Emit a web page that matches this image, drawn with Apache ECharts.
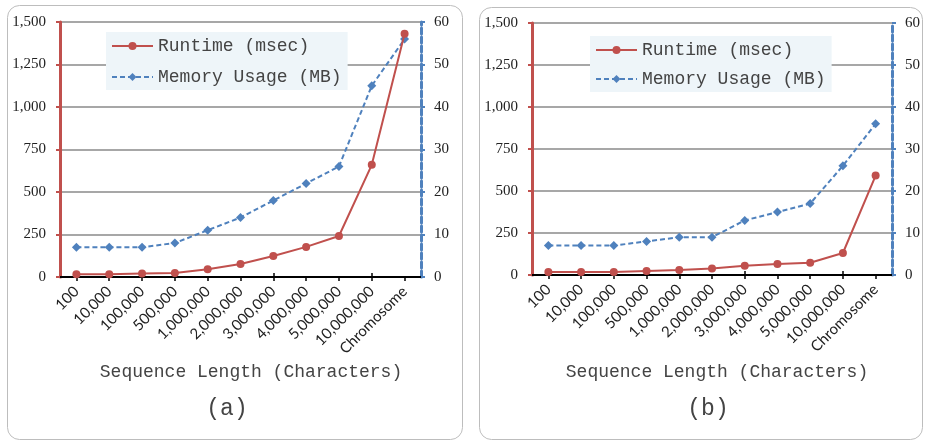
<!DOCTYPE html>
<html>
<head>
<meta charset="utf-8">
<script src="https://cdn.jsdelivr.net/npm/echarts@6/dist/echarts.min.js"></script>
<style>html,body{margin:0;padding:0;background:#fff;}#c{width:925px;height:443px;}</style>
</head>
<body>
<div id="c"></div>
<script>
const categories = ['100','10,000','100,000','500,000','1,000,000','2,000,000','3,000,000','4,000,000','5,000,000','10,000,000','Chromosome'];
const runtimeA = [16,16,20,24,45,77,124,177,241,660,1431];
const memoryA  = [7,7,7,8,11,14,18,22,26,45,56];
const runtimeB = [18,18,18,24,30,38,55,65,73,131,592];
const memoryB  = [7,7,7,8,9,9,13,15,17,26,36];
const seriesNames = ['Runtime (msec)','Memory Usage (MB)'];
const xTitle = 'Sequence Length (Characters)';
const panelLabels = ['(a)','(b)'];

const RED = '#c0504d', BLUE = '#4f81bd';
const MONO = '"Liberation Mono", "DejaVu Sans Mono", monospace';
const SERIF = '"Liberation Serif", "DejaVu Serif", serif';
const fmt = v => String(v).replace(/\B(?=(\d{3})+(?!\d))/g, ',');

const grids = [
  {left:60, top:22, width:361, height:255},
  {left:532, top:23, width:360, height:252}
];

function xAxes(gi){
  return [
    {type:'category', gridIndex:gi, data:categories, boundaryGap:true,
     axisLine:{show:true, lineStyle:{color:'#000', width:2}},
     axisTick:{show:true, alignWithLabel:true, length:4, lineStyle:{color:'#000', width:1.5}},
     axisLabel:{rotate:45, margin:12, fontFamily:'Lato, "Open Sans", sans-serif', fontSize:15, color:'#222'},
     splitLine:{show:false}},
    {type:'category', gridIndex:gi, data:categories, boundaryGap:true, position:'bottom',
     axisLine:{show:false},
     axisTick:{show:true, inside:true, alignWithLabel:true, length:4, lineStyle:{color:'#000', width:1.5}},
     axisLabel:{show:false}, splitLine:{show:false}}
  ];
}
function yAxes(gi){
  return [
    {type:'value', gridIndex:gi, position:'left', min:0, max:1500, interval:250,
     axisLine:{show:true, lineStyle:{color:RED, width:3}},
     axisTick:{show:true, length:4, lineStyle:{color:RED, width:2}},
     axisLabel:{formatter:fmt, margin:14, fontFamily:SERIF, fontSize:15, color:'#222'},
     splitLine:{show:true, lineStyle:{color:'#8a8a8a', width:1.5}}},
    {type:'value', gridIndex:gi, position:'right', min:0, max:60, interval:10,
     axisLine:{show:true, lineStyle:{color:BLUE, width:3, type:[6,3]}},
     axisTick:{show:true, length:4, lineStyle:{color:BLUE, width:2}},
     axisLabel:{margin:13, fontFamily:SERIF, fontSize:15, color:'#222'},
     splitLine:{show:false}}
  ];
}

function seriesFor(gi, rt, mem){
  return [
    {name:seriesNames[0], type:'line', xAxisIndex:gi*2, yAxisIndex:gi*2, data:rt,
     symbol:'circle', symbolSize:8, itemStyle:{color:RED}, lineStyle:{color:RED, width:2}, z:3},
    {name:seriesNames[1], type:'line', xAxisIndex:gi*2, yAxisIndex:gi*2+1, data:mem,
     symbol:'diamond', symbolSize:9, itemStyle:{color:BLUE}, lineStyle:{color:BLUE, width:2, type:[5,3]}, z:2}
  ];
}

function legendFor(left, top, gap){
  return {orient:'vertical', left:left, top:top, padding:[5,6,4,5], itemWidth:41, itemHeight:10, itemGap:gap,
    backgroundColor:'#eef5f9', data:seriesNames,
    textStyle:{fontFamily:MONO, fontSize:18, color:'#444'}};
}

const chart = echarts.init(document.getElementById('c'), null, {renderer:'canvas'});
chart.setOption({
  animation:false,
  grid:grids,
  xAxis:[...xAxes(0), ...xAxes(1)],
  yAxis:[...yAxes(0), ...yAxes(1)],
  legend:[legendFor(106,32,13), legendFor(590,36,11)],
  series:[...seriesFor(0, runtimeA, memoryA), ...seriesFor(1, runtimeB, memoryB)],
  graphic:[
    {type:'rect', shape:{x:7.5, y:5.5, width:455, height:434, r:12}, style:{fill:'none', stroke:'#bdbdbd', lineWidth:1}, z:-10},
    {type:'rect', shape:{x:479.5, y:7.5, width:443, height:432, r:12}, style:{fill:'none', stroke:'#bdbdbd', lineWidth:1}, z:-10},
    {type:'text', x:251, y:372, style:{text:xTitle, fill:'#444', font:`18px ${MONO}`, align:'center', verticalAlign:'middle'}},
    {type:'text', x:717, y:372, style:{text:xTitle, fill:'#444', font:`18px ${MONO}`, align:'center', verticalAlign:'middle'}},
    {type:'text', x:227, y:409, style:{text:panelLabels[0], fill:'#444', font:`23px ${MONO}`, align:'center', verticalAlign:'middle'}},
    {type:'text', x:708, y:409, style:{text:panelLabels[1], fill:'#444', font:`23px ${MONO}`, align:'center', verticalAlign:'middle'}}
  ]
});
</script>
</body>
</html>
